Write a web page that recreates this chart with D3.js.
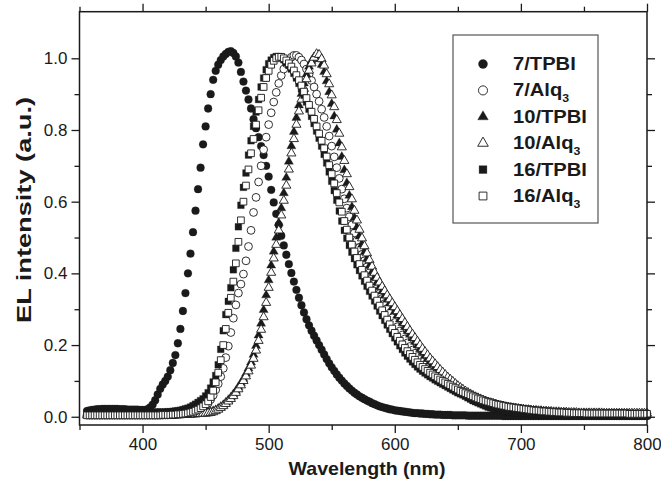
<!DOCTYPE html>
<html>
<head>
<meta charset="utf-8">
<script src="https://cdn.jsdelivr.net/npm/d3@7"></script>
<style>
  body { margin: 0; background: #fff; }
  text { font-family: "Liberation Sans", Arial, Helvetica, sans-serif; fill: #1a1a1a; }
</style>
</head>
<body>
<svg id="chart" width="661" height="491"></svg>
<script>
// Wavelength grid of the EL spectra (nm)
const wavelength = d3.range(356, 801, 2);

// Normalised EL intensity of each device, one value per wavelength step
const tpbi7 = [
  .016,.018,.019,.020,.021,.021,.022,.022,.022,.022,
  .022,.022,.022,.021,.021,.021,.020,.020,.020,.020,
  .020,.019,.019,.019,.021,.026,.034,.046,.062,.078,
  .090,.100,.112,.130,.150,.172,.205,.245,.295,.345,
  .400,.455,.515,.575,.635,.695,.760,.810,.860,.900,
  .940,.965,.982,.995,1.005,1.012,1.018,1.020,1.015,1.005,
  .988,.962,.935,.910,.885,.860,.830,.805,.780,.755,
  .730,.700,.670,.633,.598,.566,.535,.505,.478,.452,
  .426,.401,.377,.354,.332,.311,.291,.272,.255,.240,
  .226,.213,.200,.187,.174,.161,.149,.138,.128,.118,
  .109,.101,.093,.086,.079,.073,.067,.062,.057,.053,
  .049,.045,.042,.038,.035,.032,.029,.027,.025,.023,
  .021,.020,.018,.017,.016,.015,.014,.013,.012,.011,
  .010,.010,.009,.009,.008,.008,.007,.007,.006,.006,
  .006,.005,.005,.005,.005,.004,.004,.004,.004,.004,
  .004,.003,.003,.003,.003,.003,.003,.003,.003,.003,
  .003,.003,.003,.003,.003,.002,.002,.002,.002,.002,
  .002,.002,.002,.002,.002,.002,.002,.002,.002,.002,
  .002,.002,.002,.002,.002,.002,.002,.002,.002,.002,
  .002,.002,.002,.002,.002,.002,.002,.002,.002,.002,
  .002,.002,.002,.002,.002,.002,.002,.002,.002,.002,
  .002,.002,.002,.002,.002,.002,.002,.002,.002,.002,
  .002,.002,.002
];

const alq7 = [
  .005,.005,.005,.005,.005,.005,.005,.005,.005,.005,
  .005,.005,.005,.005,.005,.005,.005,.005,.005,.005,
  .005,.005,.005,.005,.005,.005,.005,.005,.005,.005,
  .005,.005,.005,.006,.006,.006,.007,.007,.008,.009,
  .010,.011,.013,.015,.018,.021,.025,.030,.038,.048,
  .060,.075,.092,.112,.135,.165,.197,.235,.275,.312,
  .345,.370,.398,.435,.475,.520,.570,.612,.655,.700,
  .745,.780,.815,.848,.878,.905,.930,.952,.970,.985,
  .995,1.003,1.008,1.008,1.003,.995,.984,.970,.955,.938,
  .920,.900,.880,.858,.835,.810,.783,.755,.725,.695,
  .665,.635,.608,.582,.558,.535,.513,.492,.472,.453,
  .435,.418,.402,.387,.372,.358,.344,.330,.316,.302,
  .289,.276,.263,.251,.239,.228,.217,.206,.196,.186,
  .177,.168,.160,.152,.144,.137,.130,.123,.117,.111,
  .105,.100,.094,.089,.085,.080,.076,.072,.068,.064,
  .061,.058,.055,.052,.049,.047,.044,.042,.040,.038,
  .036,.034,.033,.031,.030,.028,.027,.026,.025,.024,
  .023,.022,.021,.020,.019,.019,.018,.017,.017,.016,
  .016,.015,.015,.014,.014,.013,.013,.013,.012,.012,
  .012,.011,.011,.011,.011,.010,.010,.010,.010,.010,
  .010,.010,.010,.010,.010,.010,.010,.010,.010,.010,
  .010,.010,.010,.009,.009,.009,.009,.009,.009,.009,
  .009,.009,.009
];

const tpbi10 = [
  .008,.008,.008,.008,.008,.008,.008,.008,.008,.008,
  .008,.008,.008,.008,.008,.008,.008,.008,.008,.008,
  .008,.008,.008,.008,.008,.008,.008,.008,.008,.008,
  .008,.008,.008,.008,.008,.008,.008,.008,.009,.009,
  .009,.009,.010,.010,.011,.011,.012,.012,.013,.014,
  .016,.019,.023,.028,.033,.040,.047,.054,.063,.072,
  .083,.094,.106,.120,.135,.152,.173,.198,.227,.260,
  .298,.339,.381,.422,.461,.500,.541,.582,.624,.667,
  .712,.755,.795,.834,.869,.901,.930,.955,.977,.993,
  1.003,1.006,.998,.982,.962,.936,.906,.873,.838,.801,
  .763,.725,.688,.652,.617,.585,.555,.528,.503,.480,
  .459,.440,.421,.404,.389,.375,.362,.350,.338,.327,
  .316,.305,.294,.283,.272,.261,.250,.239,.229,.219,
  .209,.199,.189,.180,.171,.162,.154,.146,.138,.130,
  .123,.116,.109,.102,.096,.090,.084,.079,.074,.069,
  .064,.059,.055,.051,.047,.043,.040,.037,.034,.031,
  .029,.026,.024,.022,.020,.019,.017,.016,.015,.014,
  .013,.012,.011,.011,.010,.010,.009,.009,.008,.008,
  .008,.007,.007,.007,.006,.006,.006,.006,.005,.005,
  .005,.005,.005,.005,.005,.005,.005,.005,.005,.005,
  .005,.005,.004,.004,.004,.004,.004,.004,.004,.004,
  .004,.004,.004,.004,.004,.004,.004,.004,.004,.004,
  .004,.004,.004
];

const alq10 = [
  .004,.004,.004,.004,.004,.004,.004,.004,.004,.004,
  .004,.004,.004,.004,.004,.004,.004,.004,.004,.004,
  .004,.004,.004,.004,.004,.004,.004,.004,.004,.004,
  .004,.004,.004,.004,.005,.005,.005,.005,.006,.006,
  .006,.006,.007,.007,.008,.008,.009,.009,.010,.011,
  .013,.016,.020,.025,.030,.036,.043,.050,.058,.067,
  .077,.088,.100,.113,.127,.143,.162,.185,.212,.243,
  .278,.318,.360,.402,.442,.480,.520,.562,.603,.645,
  .690,.735,.775,.815,.852,.885,.915,.942,.966,.986,
  1.002,1.012,1.010,.998,.980,.956,.928,.897,.864,.828,
  .790,.752,.714,.677,.641,.607,.575,.548,.522,.498,
  .476,.456,.437,.419,.402,.388,.375,.363,.351,.339,
  .328,.317,.306,.295,.284,.273,.262,.251,.240,.230,
  .220,.210,.200,.190,.181,.172,.163,.155,.147,.139,
  .131,.124,.117,.110,.104,.098,.092,.086,.081,.076,
  .071,.067,.063,.059,.055,.052,.049,.046,.043,.040,
  .038,.036,.034,.032,.030,.029,.027,.026,.025,.024,
  .023,.022,.021,.020,.019,.019,.018,.017,.017,.016,
  .016,.015,.015,.014,.014,.013,.013,.013,.012,.012,
  .012,.011,.011,.011,.011,.010,.010,.010,.010,.010,
  .010,.010,.010,.010,.010,.009,.009,.009,.009,.009,
  .009,.009,.009,.009,.009,.009,.009,.009,.009,.009,
  .009,.009,.009
];

const tpbi16 = [
  .012,.012,.012,.012,.012,.012,.012,.012,.012,.012,
  .012,.012,.012,.012,.012,.012,.012,.012,.012,.012,
  .012,.012,.012,.012,.012,.012,.012,.013,.013,.013,
  .013,.013,.014,.014,.015,.016,.017,.018,.020,.022,
  .024,.027,.031,.035,.040,.045,.050,.058,.067,.080,
  .097,.115,.145,.188,.240,.285,.322,.360,.410,.470,
  .530,.590,.640,.680,.730,.770,.810,.850,.885,.920,
  .945,.968,.985,.995,1.002,1.005,1.005,1.002,.996,.988,
  .980,.970,.958,.945,.930,.914,.897,.878,.858,.838,
  .818,.797,.777,.755,.732,.708,.683,.657,.631,.604,
  .574,.546,.520,.498,.478,.459,.441,.424,.408,.393,
  .378,.364,.350,.337,.323,.309,.295,.282,.269,.256,
  .244,.232,.220,.209,.198,.188,.178,.169,.161,.153,
  .146,.139,.133,.127,.122,.117,.112,.108,.103,.099,
  .095,.091,.087,.083,.079,.075,.071,.067,.064,.061,
  .057,.053,.049,.045,.042,.039,.036,.033,.030,.027,
  .025,.023,.021,.019,.017,.016,.015,.014,.013,.012,
  .011,.010,.010,.009,.009,.008,.008,.007,.007,.007,
  .006,.006,.006,.006,.005,.005,.005,.005,.005,.004,
  .004,.004,.004,.004,.004,.004,.004,.004,.004,.004,
  .004,.004,.004,.003,.003,.003,.003,.003,.003,.003,
  .003,.003,.003,.003,.003,.003,.003,.003,.003,.003,
  .003,.003,.003
];

const alq16 = [
  .004,.004,.004,.004,.004,.004,.004,.004,.004,.004,
  .004,.004,.004,.004,.004,.004,.004,.004,.004,.004,
  .004,.004,.004,.004,.004,.004,.004,.004,.004,.004,
  .005,.005,.005,.005,.006,.006,.007,.007,.008,.009,
  .010,.012,.014,.017,.020,.024,.029,.035,.043,.055,
  .073,.096,.123,.158,.200,.245,.290,.332,.377,.428,
  .488,.548,.600,.645,.690,.735,.775,.815,.855,.890,
  .920,.945,.965,.982,.993,1.000,1.004,1.004,1.000,.994,
  .986,.977,.966,.953,.939,.924,.907,.889,.870,.851,
  .831,.810,.790,.770,.749,.726,.702,.677,.651,.624,
  .598,.572,.546,.522,.500,.480,.461,.443,.426,.410,
  .395,.380,.366,.352,.338,.324,.310,.297,.284,.271,
  .258,.246,.234,.223,.212,.202,.192,.183,.175,.167,
  .159,.152,.145,.139,.133,.128,.123,.118,.113,.109,
  .104,.100,.096,.092,.088,.084,.080,.076,.072,.069,
  .066,.063,.060,.057,.054,.051,.049,.046,.044,.042,
  .040,.038,.036,.034,.033,.031,.030,.028,.027,.026,
  .025,.024,.023,.022,.021,.020,.019,.018,.017,.017,
  .016,.015,.015,.014,.014,.013,.013,.012,.012,.012,
  .011,.011,.011,.010,.010,.010,.010,.010,.009,.009,
  .009,.009,.009,.009,.009,.009,.009,.009,.009,.009,
  .009,.009,.009,.009,.009,.008,.008,.008,.008,.008,
  .008,.008,.008
];

const seriesNames = ["7/TPBI", "7/Alq3", "10/TPBI", "10/Alq3", "16/TPBI", "16/Alq3"];
const seriesValues = [tpbi7, alq7, tpbi10, alq10, tpbi16, alq16];
const seriesShapes = ["circle", "circle", "triangle", "triangle", "square", "square"];
const seriesFilled = [true, false, true, false, true, false];

const xTicks = [400, 500, 600, 700, 800];
const xMinorTicks = [350, 450, 550, 650, 750];
const yTicks = [0.0, 0.2, 0.4, 0.6, 0.8, 1.0];
const yMinorTicks = [0.1, 0.3, 0.5, 0.7, 0.9];

const svg = d3.select("#chart");
const plotLeft = 79.5, plotRight = 647, plotTop = 11.7, plotBottom = 425;
const x = d3.scaleLinear().domain([350, 800]).range([plotLeft, plotRight]);
const y = d3.scaleLinear().domain([-0.023, 1.13]).range([plotBottom, plotTop]);

const ink = "#1a1a1a";
const symbolType = { circle: d3.symbolCircle, triangle: d3.symbolTriangle, square: d3.symbolSquare };
const symbolSize = { circle: 48, triangle: 36, square: 45 };

// Spectra, drawn in legend order so the later series sit on top
seriesValues.forEach((vals, s) => {
  const shape = seriesShapes[s];
  const gen = d3.symbol().type(symbolType[shape]).size(symbolSize[shape]);
  svg.append("g")
    .selectAll("path")
    .data(wavelength.map((w, i) => [w, vals[i]]))
    .join("path")
    .attr("d", gen)
    .attr("transform", d => `translate(${x(d[0])},${y(d[1])})`)
    .attr("fill", seriesFilled[s] ? ink : "#fff")
    .attr("stroke", ink)
    .attr("stroke-width", seriesFilled[s] ? 0.3 : 0.9);
});

// Frame and axes
const axisStyle = g => {
  g.select(".domain").remove();
  g.selectAll("line").attr("stroke", ink).attr("stroke-width", 1.3);
  g.selectAll("text").attr("font-size", 17).attr("fill", ink)
    .attr("font-family", "'Liberation Sans', Arial, sans-serif");
};

svg.append("g").attr("transform", `translate(0,${plotBottom})`)
  .call(d3.axisBottom(x).tickValues(xTicks).tickSize(8).tickPadding(5).tickFormat(d3.format("d")))
  .call(axisStyle);
svg.append("g").attr("transform", `translate(0,${plotBottom})`)
  .call(d3.axisBottom(x).tickValues(xMinorTicks).tickSize(5).tickFormat(""))
  .call(axisStyle);
svg.append("g").attr("transform", `translate(0,${plotTop})`)
  .call(d3.axisTop(x).tickValues(xTicks).tickSize(8).tickFormat(""))
  .call(axisStyle);
svg.append("g").attr("transform", `translate(0,${plotTop})`)
  .call(d3.axisTop(x).tickValues(xMinorTicks).tickSize(5).tickFormat(""))
  .call(axisStyle);

svg.append("g").attr("transform", `translate(${plotLeft},0)`)
  .call(d3.axisLeft(y).tickValues(yTicks).tickSize(8).tickPadding(4).tickFormat(d3.format(".1f")))
  .call(axisStyle);
svg.append("g").attr("transform", `translate(${plotLeft},0)`)
  .call(d3.axisLeft(y).tickValues(yMinorTicks).tickSize(5).tickFormat(""))
  .call(axisStyle);
svg.append("g").attr("transform", `translate(${plotRight},0)`)
  .call(d3.axisRight(y).tickValues(yTicks).tickSize(8).tickFormat(""))
  .call(axisStyle);
svg.append("g").attr("transform", `translate(${plotRight},0)`)
  .call(d3.axisRight(y).tickValues(yMinorTicks).tickSize(5).tickFormat(""))
  .call(axisStyle);

svg.append("rect")
  .attr("x", plotLeft).attr("y", plotTop)
  .attr("width", plotRight - plotLeft).attr("height", plotBottom - plotTop)
  .attr("fill", "none").attr("stroke", ink).attr("stroke-width", 1.5);

// Axis titles
svg.append("text")
  .attr("x", 367).attr("y", 475)
  .attr("text-anchor", "middle").attr("font-weight", "bold").attr("font-size", 19)
  .attr("textLength", 157).attr("lengthAdjust", "spacingAndGlyphs")
  .text("Wavelength (nm)");
svg.append("text")
  .attr("transform", "translate(31,210) rotate(-90)")
  .attr("text-anchor", "middle").attr("font-weight", "bold").attr("font-size", 21)
  .attr("textLength", 226).attr("lengthAdjust", "spacingAndGlyphs")
  .text("EL intensity (a.u.)");

// Legend
const legend = svg.append("g");
legend.append("rect")
  .attr("x", 453).attr("y", 35).attr("width", 145).attr("height", 188)
  .attr("fill", "#fff").attr("stroke", "#555").attr("stroke-width", 1.2);
const rowY = d3.scalePoint().domain(seriesNames).range([64, 196]);
seriesNames.forEach((name, s) => {
  const shape = seriesShapes[s];
  const gen = d3.symbol().type(symbolType[shape]).size(symbolSize[shape] * 1.35);
  legend.append("path")
    .attr("d", gen)
    .attr("transform", `translate(483,${rowY(name)})`)
    .attr("fill", seriesFilled[s] ? ink : "#fff")
    .attr("stroke", ink).attr("stroke-width", seriesFilled[s] ? 0.3 : 0.9);
  const t = legend.append("text")
    .attr("transform", `translate(513,${rowY(name) + 6}) scale(1.12,1)`)
    .attr("font-weight", "bold").attr("font-size", 18);
  const m = name.match(/^(.*Alq)3$/);
  if (m) {
    t.append("tspan").text(m[1]);
    t.append("tspan").attr("font-size", 11).attr("dy", 6).text("3");
  } else {
    t.text(name);
  }
});
</script>
</body>
</html>
